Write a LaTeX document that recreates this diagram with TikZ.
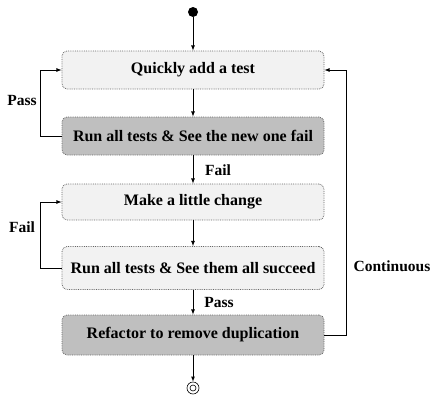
\documentclass[tikz,border=0pt]{standalone}
\usepackage{fontspec}
\setmainfont{Liberation Serif}
\usepackage{tikz}
\usetikzlibrary{positioning}

\tikzset{
  stepbox/.style={draw=black!60, densely dotted, line width=0.8pt, rounded corners=5pt,
    fill=gray!10, minimum width=262pt, minimum height=38pt, font=\bfseries\fontsize{16}{18}\selectfont},
  darkbox/.style={stepbox, fill=gray!50},
  flowlabel/.style={font=\bfseries\fontsize{15.5}{17}\selectfont},
  flow/.style={->, >=latex, line width=0.8pt}
}

\begin{document}
\begin{tikzpicture}[x=1pt, y=-1pt]
  \useasboundingbox (0,0) rectangle (431,397);
  \node[fill=black,circle,inner sep=0pt,minimum size=10pt] (start) at (193,12) {};
  \node[stepbox] (quick) at (193,70) {Quickly add a test};
  \node[darkbox] (runfail) at (193,136) {Run all tests \& See the new one fail};
  \node[stepbox, minimum height=36pt] (change) at (193,202) {Make a little change};
  \node[stepbox, minimum height=43pt] (runpass) at (193,268) {Run all tests \& See them all succeed};
  \node[darkbox, minimum height=40pt] (refactor) at (193,335) {Refactor to remove duplication};
  \node[draw=black,circle,inner sep=0pt,minimum size=12pt,line width=0.6pt] (stop) at (193,388) {};
  \node[draw=black,circle,inner sep=0pt,minimum size=6pt,line width=0.6pt] at (stop) {};
% connectors
  \draw[flow] (start) -- (quick);
  \draw[flow] (quick) -- (runfail);
  \draw[flow] (runfail) -- (change);
  \draw[flow] (change) -- (runpass);
  \draw[flow] (runpass) -- (refactor);
  \draw[flow] (refactor) -- (stop);
  \draw[flow] (runfail.west) -- ++(-21,0) |- (quick.west);
  \draw[flow] (runpass.west) -- ++(-21,0) |- (change.west);
  \draw[flow] (refactor.east) -- ++(22,0) |- (quick.east);
% labels
  \node[flowlabel] (passup) at (22,100) {Pass};
  \node[flowlabel] (failup) at (22,227) {Fail};
  \node[flowlabel] (faildown) at (218,170) {Fail};
  \node[flowlabel] (passdown) at (219,302) {Pass};
  \node[flowlabel] (cont) at (392,266) {Continuous};
\end{tikzpicture}
\end{document}
